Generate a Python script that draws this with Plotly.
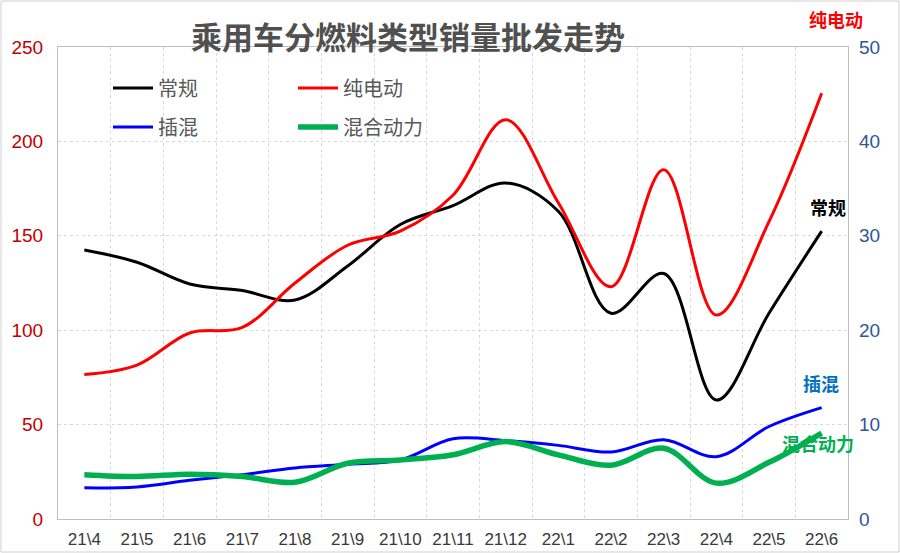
import plotly.graph_objects as go

categories = ["21\\4", "21\\5", "21\\6", "21\\7", "21\\8", "21\\9", "21\\10", "21\\11",
              "21\\12", "22\\1", "22\\2", "22\\3", "22\\4", "22\\5", "22\\6"]
conventional = [142.5, 136, 124.5, 121, 116, 134, 156, 166, 178, 163, 109, 130, 63, 109, 152.5]
bev = [15.3, 16.3, 19.7, 20.3, 25.0, 29.0, 30.5, 34.3, 42.3, 33.5, 24.6, 37.0, 21.6, 31.5, 45.1]
phev = [3.3, 3.4, 4.1, 4.7, 5.4, 5.8, 6.25, 8.5, 8.3, 7.8, 7.1, 8.4, 6.6, 9.8, 11.8]
hev = [4.7, 4.5, 4.75, 4.5, 3.9, 5.9, 6.25, 6.8, 8.2, 6.8, 5.7, 7.5, 3.8, 6.0, 9.1]

left_ticks = [0, 50, 100, 150, 200, 250]
right_ticks = [0, 10, 20, 30, 40, 50]

CJK = "Noto Sans CJK SC"
LAT = "Liberation Sans, Arial, sans-serif"

fig = go.Figure()
fig.add_trace(go.Scatter(x=categories, y=conventional, name="常规", mode="lines",
                         line=dict(color="#000000", width=3, shape="spline", smoothing=1.0),
                         legend="legend"))
fig.add_trace(go.Scatter(x=categories, y=bev, name="纯电动", mode="lines", yaxis="y2",
                         line=dict(color="#FF0000", width=3, shape="spline", smoothing=1.0),
                         legend="legend"))
fig.add_trace(go.Scatter(x=categories, y=phev, name="插混", mode="lines", yaxis="y2",
                         line=dict(color="#0000FF", width=3, shape="spline", smoothing=1.0),
                         legend="legend2"))
fig.add_trace(go.Scatter(x=categories, y=hev, name="混合动力", mode="lines", yaxis="y2",
                         line=dict(color="#00B050", width=5.5, shape="spline", smoothing=1.0),
                         legend="legend2"))

grid = dict(showgrid=True, gridcolor="#D9D9D9", griddash="dot", gridwidth=1)

legend_common = dict(orientation="h", xanchor="left", yanchor="middle",
                     entrywidth=130, entrywidthmode="pixels",
                     bgcolor="rgba(0,0,0,0)",
                     font=dict(family=CJK, size=20, color="#595959"),
                     itemwidth=40, tracegroupgap=0)

fig.update_layout(
    width=900, height=553,
    margin=dict(l=58, r=52, t=47, b=34, autoexpand=False),
    paper_bgcolor="white", plot_bgcolor="white",
    title=dict(text="<b>乘用车分燃料类型销量批发走势</b>", x=408 / 900, xanchor="center",
               y=1 - 38 / 553, yanchor="middle", yref="container",
               font=dict(family=CJK, size=31, color="#505050")),
    xaxis=dict(tickmode="array", tickvals=categories, ticktext=categories,
               tickson="boundaries", ticks="", showline=True, linecolor="#BFBFBF",
               mirror=True, tickfont=dict(family=LAT, size=17, color="#383838"),
               ticklabelstandoff=5, automargin=False,
               range=[-0.5, len(categories) - 0.5], fixedrange=True, **grid),
    yaxis=dict(range=[0, 250], tickvals=left_ticks, showline=True, linecolor="#BFBFBF",
               mirror=True, tickfont=dict(family=LAT, size=19, color="#C00000"),
               ticklabelstandoff=10, ticks="", zeroline=False, automargin=False, **grid),
    yaxis2=dict(range=[0, 50], tickvals=right_ticks, overlaying="y", side="right",
                showgrid=False, zeroline=False, ticks="", ticklabelstandoff=10,
                automargin=False,
                tickfont=dict(family=LAT, size=19, color="#2F5597")),
    legend=dict(x=(108 - 58) / 790, y=1 - (88 - 47) / 472, **legend_common),
    legend2=dict(x=(108 - 58) / 790, y=1 - (127 - 47) / 472, **legend_common),
    showlegend=True,
)

annots = [
    ("纯电动", 836, 19, "#FF0000"),
    ("常规", 828, 207, "#000000"),
    ("插混", 821, 383, "#0070C0"),
    ("混合动力", 818, 443, "#00B050"),
]
for text, px, py, col in annots:
    fig.add_annotation(text="<b>" + text + "</b>", xref="paper", yref="paper",
                       x=(px - 58) / 790, y=1 - (py - 47) / 472,
                       xanchor="center", yanchor="middle", showarrow=False,
                       font=dict(family=CJK, size=18, color=col))

fig.add_shape(type="rect", xref="paper", yref="paper",
              x0=(1 - 58) / 790, x1=(899 - 58) / 790,
              y0=1 - (552 - 47) / 472, y1=1 - (1 - 47) / 472,
              line=dict(color="#D0D0D0", width=1), layer="below")

fig.write_html("out.html", config={"displayModeBar": False},
               post_script="document.body.style.margin='0';document.body.style.padding='0';")
